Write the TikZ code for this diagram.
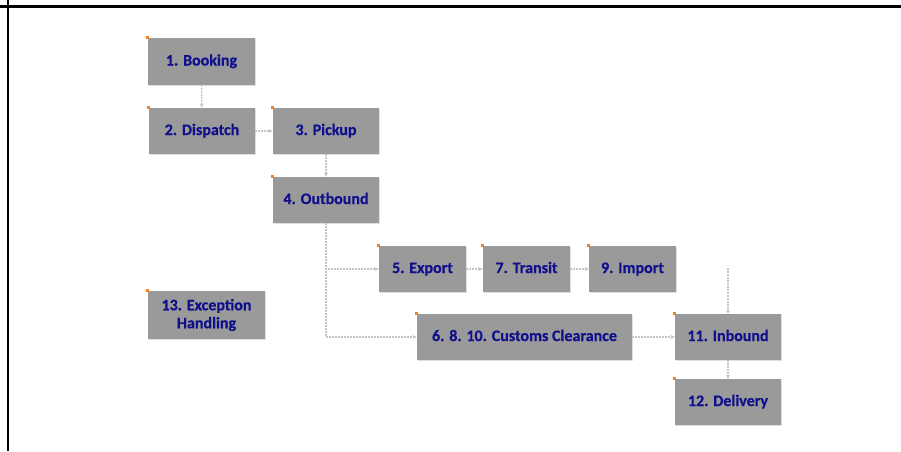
\documentclass[tikz,border=0pt]{standalone}
\usepackage{fontspec}
\setmainfont{Carlito}[BoldFeatures={FakeBold=0.6}]
\usetikzlibrary{arrows.meta,shadows}
\definecolor{boxgray}{HTML}{9A9A9A}
\definecolor{stepblue}{HTML}{10108C}
\definecolor{flowgray}{HTML}{C4C4C4}
\definecolor{markorange}{HTML}{F5821F}
\begin{document}
\begin{tikzpicture}[x=1pt,y=-1pt,line join=round,>=Stealth]
	\tikzset{stepbox/.style={fill=boxgray,text=stepblue,font=\bfseries\fontsize{16}{17}\selectfont,
			minimum width=106pt,minimum height=46pt,inner sep=2pt,align=center,
			drop shadow={opacity=0.25,shadow xshift=1.2pt,shadow yshift=-1.2pt}},
		oneline/.style={text height=11pt,text depth=3pt},
		flow/.style={draw=flowgray,line width=1.1pt,dash pattern=on 2pt off 1pt,-{Stealth[length=4.5pt,width=4pt]}}}
	\useasboundingbox (0,0) rectangle (901,451);
	\draw[line width=2.2pt] (0,6.5)--(901,6.5);
	\draw[line width=2.2pt] (8,0)--(8,451);
	% steps
	\node[stepbox,oneline,minimum width=107pt,minimum height=47pt] (b1) at (201.5,61.5) {1. Booking};
	\node[stepbox,oneline] (b2) at (202,131) {2. Dispatch};
	\node[stepbox,oneline] (b3) at (326,131) {3. Pickup};
	\node[stepbox,oneline] (b4) at (326,200) {4. Outbound};
	\node[stepbox,oneline,minimum width=87pt] (b5) at (422.5,269) {5. Export};
	\node[stepbox,oneline,minimum width=87pt] (b7) at (526.5,269) {7. Transit};
	\node[stepbox,oneline,minimum width=87pt] (b9) at (632.5,269) {9. Import};
	\node[stepbox,oneline,minimum width=215pt] (b6) at (524.5,337) {6. 8. 10. Customs Clearance};
	\node[stepbox,oneline] (b11) at (728,337) {11. Inbound};
	\node[stepbox,oneline] (b12) at (728,402) {12. Delivery};
	\node[stepbox,minimum width=117pt,minimum height=48pt] (b13) at (206.5,315) {13. Exception\\[1pt]Handling};
	\coordinate (in11) at (728,268);
	% connectors
	\draw[flow] (b1)--(b2);
	\draw[flow] (b2)--(b3);
	\draw[flow] (b3)--(b4);
	\draw[flow] (b4.south) |- (b5.west);
	\draw[flow] (b4.south) |- (b6.west);
	\draw[flow] (b5)--(b7);
	\draw[flow] (b7)--(b9);
	\draw[flow] (b6)--(b11);
	\draw[flow] (in11)--(b11.north);
	\draw[flow] (b11)--(b12);
	\foreach \n in {b1,b2,b3,b4,b5,b7,b9,b6,b11,b12,b13}
		\fill[markorange] (\n.north west) ++(-1.5,-1.5) rectangle ++(3,3);
\end{tikzpicture}
\end{document}
